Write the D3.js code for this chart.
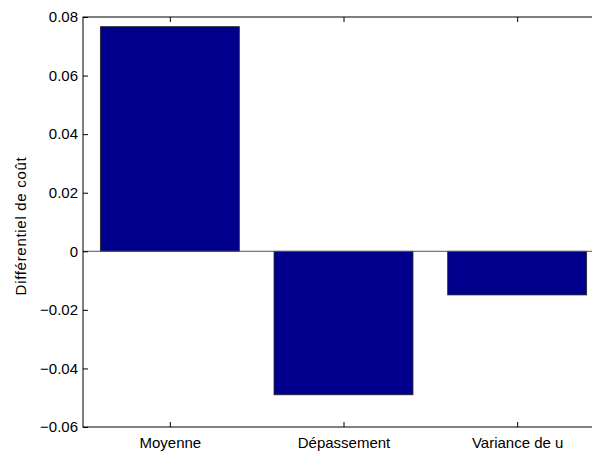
<!DOCTYPE html>
<html>
<head>
<meta charset="utf-8">
<script src="https://cdn.jsdelivr.net/npm/d3@7"></script>
<style>
  html, body { margin: 0; padding: 0; background: #fff; }
  svg { display: block; font-family: "Liberation Sans", Arial, Helvetica, sans-serif; }
</style>
</head>
<body>
<svg id="chart" width="592" height="453"></svg>
<script>
// Cost differential per component
const categories = ["Moyenne", "Dépassement", "Variance de u"];
const values = [0.0767, -0.049, -0.0149];
const yTicks = [-0.06, -0.04, -0.02, 0, 0.02, 0.04, 0.06, 0.08];
const yTickLabels = ["\u22120.06", "\u22120.04", "\u22120.02", "0", "0.02", "0.04", "0.06", "0.08"];

const svg = d3.select("#chart");
const plotLeft = 83, plotTop = 17, plotBottom = 427;
const tickLen = 5;
const fontSize = 15;

// Categorical positions 1..n over a [0.5, n+0.5] range; the box runs past the right edge
const x = d3.scaleLinear().domain([0.5, categories.length + 0.5]).range([plotLeft, 604]);
const y = d3.scaleLinear().domain([-0.06, 0.08]).range([plotBottom, plotTop]);
const barW = 0.8;

const g = svg.append("g");

// Bars
g.selectAll("rect.bar")
  .data(values)
  .enter().append("rect")
  .attr("class", "bar")
  .attr("x", (d, i) => x(i + 1 - barW / 2))
  .attr("width", (d, i) => x(i + 1 + barW / 2) - x(i + 1 - barW / 2))
  .attr("y", d => y(Math.max(0, d)))
  .attr("height", d => Math.abs(y(d) - y(0)))
  .attr("fill", "#00008c")
  .attr("stroke", "#222")
  .attr("stroke-width", 0.8);

// Zero baseline
g.append("line")
  .attr("x1", x(0.5)).attr("x2", x(categories.length + 0.5))
  .attr("y1", y(0)).attr("y2", y(0))
  .attr("stroke", "#555").attr("stroke-width", 1);

// Box
g.append("rect")
  .attr("x", x(0.5)).attr("y", plotTop)
  .attr("width", x(categories.length + 0.5) - x(0.5))
  .attr("height", plotBottom - plotTop)
  .attr("fill", "none").attr("stroke", "#000").attr("stroke-width", 1);

// Y axis (ticks pointing inward)
const yAxis = d3.axisLeft(y)
  .tickValues(yTicks)
  .tickSize(-tickLen)
  .tickPadding(5)
  .tickFormat((d, i) => yTickLabels[i]);
const ya = g.append("g").attr("transform", `translate(${plotLeft},0)`).call(yAxis);
ya.select(".domain").remove();
ya.selectAll("text").attr("font-size", fontSize).attr("fill", "#000")
  .attr("font-family", "'Liberation Sans', Arial, sans-serif");
ya.selectAll("line").attr("stroke", "#000");

// X axis (ticks pointing inward)
const xAxis = d3.axisBottom(x)
  .tickValues(categories.map((c, i) => i + 1))
  .tickSize(-tickLen)
  .tickPadding(10)
  .tickFormat((d, i) => categories[i]);
const xa = g.append("g").attr("transform", `translate(0,${plotBottom})`).call(xAxis);
xa.select(".domain").remove();
xa.selectAll("text").attr("font-size", fontSize).attr("fill", "#000")
  .attr("font-family", "'Liberation Sans', Arial, sans-serif");
xa.selectAll("line").attr("stroke", "#000");

// Matching ticks along the top edge
const xt = g.append("g").attr("transform", `translate(0,${plotTop})`)
  .call(d3.axisTop(x).tickValues(categories.map((c, i) => i + 1)).tickSize(-tickLen).tickFormat(""));
xt.select(".domain").remove();
xt.selectAll("line").attr("stroke", "#000");

// Y axis title
svg.append("text")
  .attr("transform", `translate(25.5,${(plotTop + plotBottom) / 2 + 4}) rotate(-90)`)
  .attr("text-anchor", "middle")
  .attr("font-size", fontSize)
  .attr("letter-spacing", 0.7)
  .attr("fill", "#000")
  .text("Différentiel de coût");
</script>
</body>
</html>
